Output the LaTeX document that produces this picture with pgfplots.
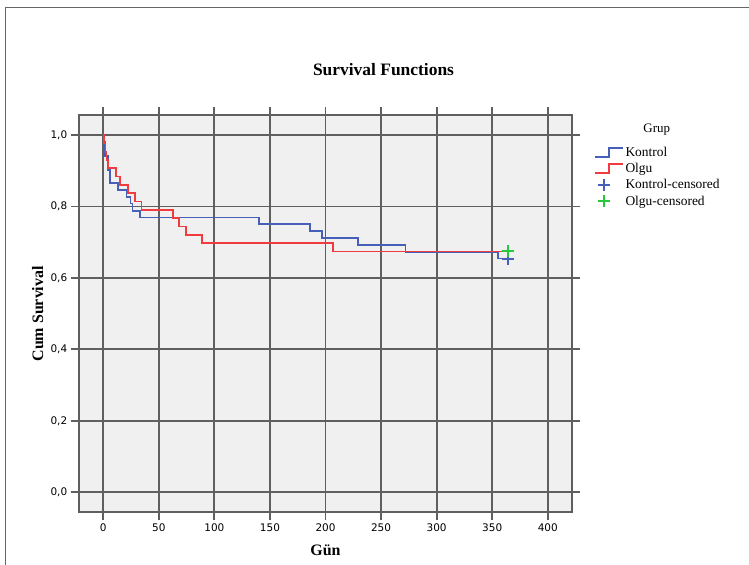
\documentclass[border=0pt]{standalone}
\usepackage{fontspec}
\setmainfont{Liberation Serif}
\newfontfamily\tickfont{DejaVu Sans}
\usepackage{pgfplots}
\pgfplotsset{compat=1.18}

\definecolor{kontrol}{RGB}{70,95,185}
\definecolor{olgu}{RGB}{240,60,65}
\definecolor{olgucens}{RGB}{40,200,60}
\definecolor{plotbg}{RGB}{240,240,240}
\definecolor{gridc}{RGB}{95,95,95}

\pgfplotsset{steplegend/.style={legend image code/.code={%
  \draw[##1] (0bp,-4.5bp) -- (14bp,-4.5bp) -- (14bp,4.5bp) -- (28bp,4.5bp);}}}

% Kaplan-Meier steps (day, cum survival)
\pgfplotstableread{
x y
0 1.000
1 0.980
1.5 0.940
4.5 0.902
6 0.865
13.5 0.846
21 0.827
24.6 0.808
26.4 0.788
33 0.769
140 0.750
186 0.731
196.6 0.711
229.5 0.692
272 0.673
355 0.654
365 0.654
}\kontroltab
\pgfplotstableread{
x y
0 1.000
1 0.977
2 0.953
3 0.930
4 0.907
11.4 0.884
15 0.860
22.5 0.837
28.5 0.814
34.5 0.791
63 0.767
68.4 0.744
74.4 0.721
88.5 0.698
206.5 0.674
365 0.674
}\olgutab

\begin{document}
\begin{tikzpicture}
\path[use as bounding box] (0,0) rectangle (749bp,-565bp);
\draw[gray!80!black, line width=1bp] (5bp,-565bp) -- (5bp,-7bp) -- (749bp,-7bp);
\node[font=\fontsize{17.5}{20}\selectfont\bfseries] at (383.5bp,-70bp) {Survival Functions};
\node[font=\fontsize{13}{15}\selectfont] at (656.7bp,-130bp) {Grup};
\begin{axis}[
  at={(78.7bp,-512.3bp)}, anchor=south west,
  scale only axis, width=493.6bp, height=397bp,
  xmin=-22.1, xmax=422.1, ymin=-0.056, ymax=1.055,
  axis background/.style={fill=plotbg},
  axis line style={draw=gridc, line width=1.8bp},
  xtick={0,50,...,400}, ytick={0,0.2,0.4,0.6,0.8,1.0},
  grid=major, major grid style={draw=gridc, line width=1.8bp},
  tick align=outside, major tick length=8bp,
  tick style={draw=gridc, line width=1.8bp},
  /pgf/number format/assume math mode=true,
  tick label style={font=\tickfont\fontsize{10.5}{12}\selectfont},
  yticklabel style={/pgf/number format/.cd, fixed, fixed zerofill, precision=1, use comma},
  xlabel={Gün}, ylabel={Cum Survival},
  label style={font=\fontsize{16}{18}\selectfont\bfseries},
  xlabel style={at={(axis description cs:0.5,-0.095)}, anchor=center},
  ylabel style={at={(axis description cs:-0.083,0.5)}, anchor=center},
  legend style={at={(axis description cs:1.044,0.925)}, anchor=north west,
    draw=none, fill=none, inner sep=0pt, row sep=2.5bp,
    font=\fontsize{13.5}{15}\selectfont,
    nodes={inner sep=1.5bp}},
  legend cell align=left,
]
\addplot[const plot, kontrol, line width=1.8bp, steplegend]
  table[x=x,y=y] {\kontroltab};
\addlegendentry{Kontrol}
\addplot[const plot, olgu, line width=1.8bp, steplegend]
  table[x=x,y=y] {\olgutab};
\addlegendentry{Olgu}
\addplot[only marks, mark=+, mark size=6bp, kontrol, line width=2bp]
  coordinates {(364.5,0.654)};
\addlegendentry{Kontrol-censored}
\addplot[only marks, mark=+, mark size=6bp, olgucens, line width=2bp]
  coordinates {(364.5,0.675)};
\addlegendentry{Olgu-censored}
\end{axis}
\end{tikzpicture}
\end{document}
